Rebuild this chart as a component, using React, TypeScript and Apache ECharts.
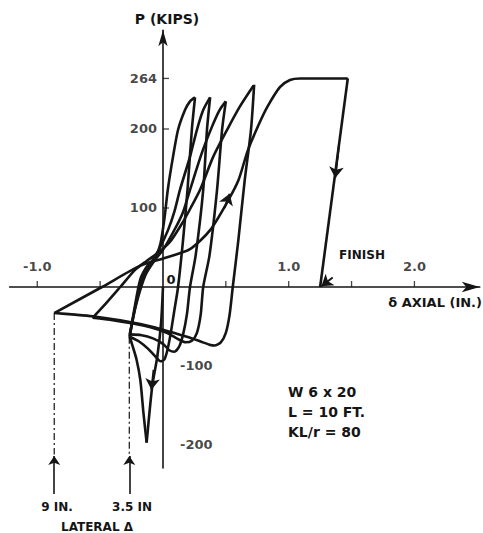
import React, { useEffect, useRef } from "react";
import * as echarts from "echarts";

// Axis ticks and labels (delta axial in inches, P in kips)
const xTickValues = [-1.0, -0.5, 0.5, 1.0, 1.5, 2.0];
const xLabelValues = [-1.0, 1.0, 2.0];
const yTickValues = [264, 200, 100];
const yPosLabelValues = [264, 200, 100];
const yNegLabelValues = [-100, -200];

// Hysteresis branches, [delta (in.), P (kips)]
const initialCompression = [[0, 0], [-0.015, -45], [-0.045, -88], [-0.085, -125], [-0.13, -197]];
const postBuckle0 = [[-0.13, -197], [-0.155, -160], [-0.18, -118], [-0.21, -92], [-0.245, -73], [-0.265, -63]];
const reload1 = [[-0.265, -63], [-0.23, -30], [-0.18, 10], [-0.12, 28], [-0.065, 36], [-0.02, 55], [0.01, 85], [0.04, 125], [0.08, 165], [0.12, 199], [0.175, 224], [0.215, 235], [0.255, 240]];
const unload1 = [[0.255, 240], [0.23, 200], [0.195, 123], [0.16, 60], [0.12, 0], [0.09, -30], [0.06, -60], [0.035, -80], [0.01, -92], [-0.02, -94], [-0.06, -88], [-0.12, -78], [-0.19, -69], [-0.265, -63]];
const reload2 = [[-0.265, -63], [-0.22, -25], [-0.16, 12], [-0.09, 32], [-0.03, 48], [0.04, 72], [0.09, 95], [0.135, 123], [0.215, 165], [0.27, 199], [0.32, 224], [0.375, 240]];
const unload2 = [[0.375, 240], [0.35, 199], [0.32, 123], [0.26, 40], [0.215, 0], [0.19, -35], [0.16, -60], [0.13, -75], [0.09, -82], [0.05, -80], [0.0, -72], [-0.08, -65], [-0.17, -61], [-0.265, -60]];
const reload3 = [[-0.265, -60], [-0.21, -20], [-0.14, 15], [-0.07, 33], [0.0, 47], [0.1, 75], [0.16, 95], [0.215, 123], [0.31, 170], [0.39, 203], [0.45, 224], [0.5, 235]];
const unload3 = [[0.5, 235], [0.47, 199], [0.43, 123], [0.37, 40], [0.32, 0], [0.3, -35], [0.27, -58], [0.23, -68], [0.18, -70], [0.12, -66], [0.03, -58], [-0.1, -51], [-0.25, -46], [-0.4, -42], [-0.56, -39]];
const reload4 = [[-0.56, -39], [-0.45, -20], [-0.34, 0], [-0.22, 22], [-0.13, 33], [-0.05, 42], [0.05, 56], [0.15, 80], [0.22, 100], [0.295, 123], [0.4, 165], [0.51, 199], [0.61, 228], [0.725, 256]];
const unload4 = [[0.725, 256], [0.7, 199], [0.65, 135], [0.6, 60], [0.555, 0], [0.53, -35], [0.5, -58], [0.46, -70], [0.41, -74], [0.37, -73], [0.3, -69], [0.19, -63], [0.0, -54], [-0.18, -47], [-0.34, -42], [-0.56, -37], [-0.7, -35], [-0.865, -33]];
const finalTension = [[-0.865, -33], [-0.485, 0], [-0.18, 27], [0.0, 36], [0.215, 48], [0.375, 72], [0.52, 110], [0.6, 135], [0.675, 173], [0.76, 205], [0.83, 228], [0.93, 253], [1.01, 262], [1.09, 264], [1.47, 264]];
const finishDrop = [[1.47, 264], [1.25, 0]];

// Direction arrows on the curves [from, to]
const curveArrows = [
  [[-0.075, -105], [-0.092, -130]],
  [[0.49, 100], [0.53, 118]],
  [[1.4, 180], [1.37, 138]],
  [[1.35, 12], [1.26, 1]],
];

// Lateral deflection markers
const lateralX = [-0.865, -0.268];
const lateralStartP = [-33, -63];
const lateralDashEnd = -212;
const lateralArrowFrom = -262;
const lateralArrowTo = -214;

const branches = [initialCompression, postBuckle0, reload1, unload1, reload2, unload2, reload3, unload3, reload4, unload4, finalTension, finishDrop];

const FONT = "'DejaVu Sans', 'Liberation Sans', sans-serif";
const INK = "#151515";

export default function App() {
  const ref = useRef<HTMLDivElement>(null);

  useEffect(() => {
    if (!ref.current) return;
    const chart = echarts.init(ref.current, null, { renderer: "svg" });

    const curveSeries = branches.map((d, i) => ({
      type: "line",
      name: "b" + i,
      data: d,
      showSymbol: false,
      symbol: "none",
      smooth: 0.25,
      clip: false,
      silent: true,
      lineStyle: { color: INK, width: 2.6 },
      z: 3,
    }));

    const dashSeries = lateralX.map((x, i) => ({
      type: "line",
      data: [[x, lateralStartP[i]], [x, lateralDashEnd]],
      showSymbol: false,
      symbol: "none",
      clip: false,
      silent: true,
      lineStyle: { color: INK, width: 1.2, type: [7, 3, 2, 3] },
      z: 2,
    }));

    const labelStyle = { color: INK, fontFamily: FONT, fontSize: 13, fontWeight: "bold" };
    const txt = (text: string, x: number, y: number, align: string, size: number) => ({
      type: "text",
      x,
      y,
      silent: true,
      style: { text, align, verticalAlign: "middle", textAlign: align, textVerticalAlign: "middle", fontFamily: FONT, fontSize: size, fontWeight: "bold", fill: INK },
    });

    const option: any = {
      animation: false,
      backgroundColor: "#ffffff",
      grid: { left: 9.6, right: 3.2, top: 30.25, bottom: 65.1, containLabel: false, outerBoundsMode: "none" },
      xAxis: {
        type: "value",
        min: -1.22,
        max: 2.52,
        splitLine: { show: false },
        axisLine: { show: true, onZero: true, symbol: ["none", "arrow"], symbolSize: [8, 18], lineStyle: { color: INK, width: 1.6 } },
        axisTick: { show: false },
        axisLabel: { show: false },
      },
      yAxis: {
        type: "value",
        min: -229,
        max: 325,
        splitLine: { show: false },
        axisLine: { show: true, onZero: true, symbol: ["none", "arrow"], symbolSize: [7, 16], lineStyle: { color: INK, width: 1.6 } },
        axisTick: { show: false },
        axisLabel: { show: false },
      },
      series: [
        ...curveSeries,
        ...dashSeries,
        {
          type: "lines",
          coordinateSystem: "cartesian2d",
          symbol: ["none", "arrow"],
          symbolSize: 11,
          silent: true,
          clip: false,
          lineStyle: { color: INK, width: 2, opacity: 1, curveness: 0 },
          data: curveArrows.map((c) => ({ coords: c })),
          z: 4,
        },
        {
          type: "lines",
          coordinateSystem: "cartesian2d",
          symbol: ["none", "arrow"],
          symbolSize: 9,
          silent: true,
          clip: false,
          lineStyle: { color: INK, width: 1.6, opacity: 1, curveness: 0 },
          data: lateralX.map((x) => ({ coords: [[x, lateralArrowFrom], [x, lateralArrowTo]] })),
          z: 4,
        },
        // x ticks (pointing up)
        {
          type: "scatter",
          silent: true,
          clip: false,
          symbol: "rect",
          symbolSize: [1.3, 6],
          symbolOffset: [0, -3],
          itemStyle: { color: INK },
          data: xTickValues.map((v) => [v, 0]),
          z: 2,
        },
        // y ticks (pointing right)
        {
          type: "scatter",
          silent: true,
          clip: false,
          symbol: "rect",
          symbolSize: [6, 1.3],
          symbolOffset: [3, 0],
          itemStyle: { color: INK },
          data: yTickValues.map((v) => [0, v]),
          z: 2,
        },
        // x tick labels
        {
          type: "scatter",
          silent: true,
          clip: false,
          symbolSize: 0,
          itemStyle: { color: "transparent" },
          data: xLabelValues.map((v) => [v, 0]),
          label: { show: true, position: "top", distance: 14, formatter: (p: any) => p.value[0].toFixed(1), ...labelStyle },
        },
        // positive P labels (left of axis)
        {
          type: "scatter",
          silent: true,
          clip: false,
          symbolSize: 0,
          itemStyle: { color: "transparent" },
          data: yPosLabelValues.map((v) => [0, v]),
          label: { show: true, position: "left", distance: 6, formatter: (p: any) => String(p.value[1]), ...labelStyle },
        },
        // negative P labels (right of axis)
        {
          type: "scatter",
          silent: true,
          clip: false,
          symbolSize: 0,
          itemStyle: { color: "transparent" },
          data: yNegLabelValues.map((v) => [0, v]),
          label: { show: true, position: "right", distance: 17, formatter: (p: any) => String(p.value[1]), ...labelStyle },
        },
      ],
      graphic: [
        txt("P (KIPS)", 167, 19, "center", 14),
        txt("0", 171, 279, "center", 13),
        txt("FINISH", 362, 255, "center", 12),
        txt("δ AXIAL (IN.)", 482, 302, "right", 13),
        txt("W 6 x 20", 288, 392, "left", 14),
        txt("L = 10 FT.", 288, 412, "left", 14),
        txt("KL/r = 80", 288, 432, "left", 14),
        txt("9 IN.", 57, 507, "center", 12),
        txt("3.5 IN", 132, 507, "center", 12),
        txt("LATERAL Δ", 97, 527, "center", 12),
      ],
    };

    chart.setOption(option);
    return () => chart.dispose();
  }, []);

  return (
    <div
      ref={ref}
      style={{ position: "absolute", left: 0, top: 0, width: 483, height: 533, background: "#fff" }}
    />
  );
}
